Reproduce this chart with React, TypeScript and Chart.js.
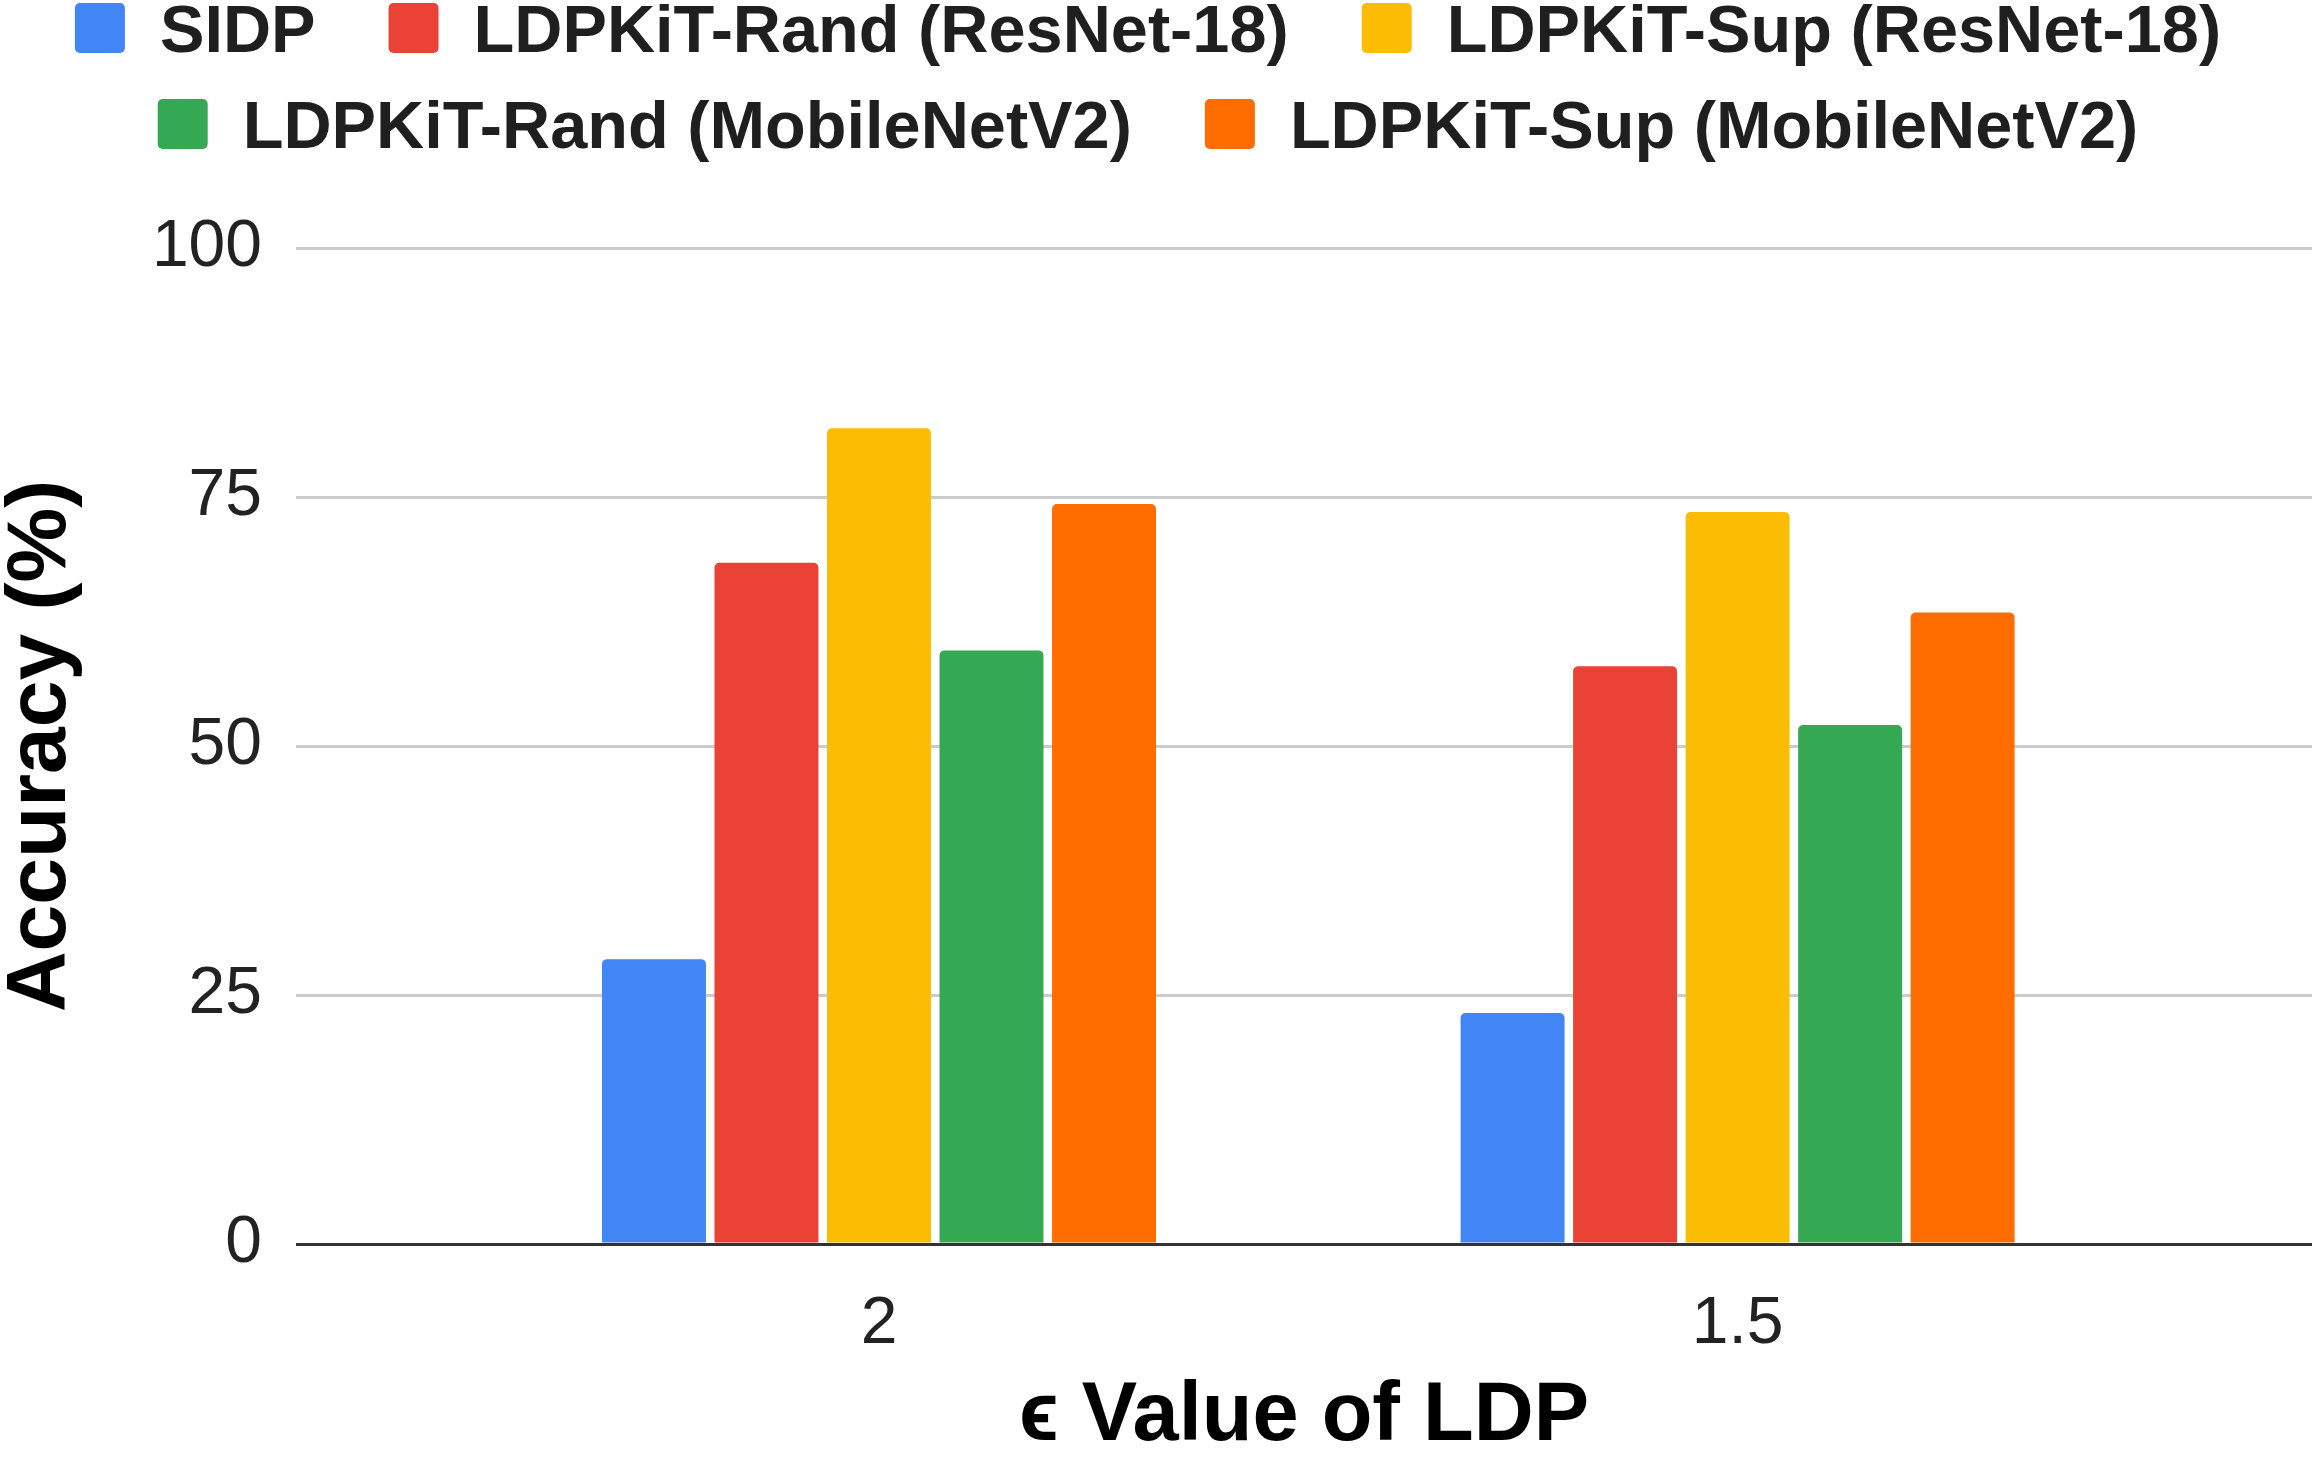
import React, { useEffect, useRef } from "react";
import { Chart, registerables } from "chart.js";

Chart.register(...registerables);

// ε values on the x axis, placed at category positions 0 and 1
const EPSILON_LABELS = ["2", "1.5"];
const EPSILON_POS = [0, 1];

// Accuracy (%) per method, one value per ε
const SIDP = [28.6, 23.2];
const RAND_RESNET18 = [68.4, 58.0];
const SUP_RESNET18 = [81.9, 73.5];
const RAND_MOBILENETV2 = [59.6, 52.1];
const SUP_MOBILENETV2 = [74.3, 63.4];

const SERIES_NAMES = [
  "SIDP",
  "LDPKiT-Rand (ResNet-18)",
  "LDPKiT-Sup (ResNet-18)",
  "LDPKiT-Rand (MobileNetV2)",
  "LDPKiT-Sup (MobileNetV2)",
];
const SERIES_VALUES = [SIDP, RAND_RESNET18, SUP_RESNET18, RAND_MOBILENETV2, SUP_MOBILENETV2];
const SERIES_COLORS = ["#4285F4", "#EA4335", "#FBBC04", "#34A853", "#FF6D01"];

const Y_TICKS = [0, 25, 50, 75, 100];

const W = 2317;
const H = 1459;
const FONT = '"Liberation Sans", Arial, "DejaVu Sans", sans-serif';

// Legend laid out in centred rows above the plot
const LEGEND = {
  font: 66.7,
  box: 50,
  boxGap: 35,
  itemGap: 73,
  firstTop: 3,
  rowPitch: 96,
  centerX: 1148,
};

const legendRows = {
  id: "legendRows",
  afterDraw(chart: any) {
    const { ctx } = chart;
    ctx.save();
    ctx.font = `bold ${LEGEND.font}px ${FONT}`;
    const items = chart.data.datasets.map((ds: any) => {
      const tw = ctx.measureText(ds.label).width;
      return { label: ds.label, color: ds.backgroundColor, tw, w: LEGEND.box + LEGEND.boxGap + tw };
    });
    const rows: any[][] = [[]];
    let rowW = 0;
    for (const it of items) {
      const add = (rows[rows.length - 1].length ? LEGEND.itemGap : 0) + it.w;
      if (rows[rows.length - 1].length && rowW + add > chart.width) {
        rows.push([it]);
        rowW = it.w;
      } else {
        rows[rows.length - 1].push(it);
        rowW += add;
      }
    }
    rows.forEach((row, r) => {
      const total = row.reduce((s, it, i) => s + it.w + (i ? LEGEND.itemGap : 0), 0);
      let x = LEGEND.centerX - total / 2;
      const top = LEGEND.firstTop + r * LEGEND.rowPitch;
      const mid = top + LEGEND.box / 2;
      for (const it of row) {
        ctx.fillStyle = it.color;
        ctx.beginPath();
        (ctx as any).roundRect(x, top, LEGEND.box, LEGEND.box, 5);
        ctx.fill();
        ctx.fillStyle = "#1f1f1f";
        ctx.textAlign = "left";
        ctx.textBaseline = "alphabetic";
        ctx.fillText(it.label, x + LEGEND.box + LEGEND.boxGap, mid + LEGEND.font * 0.716 / 2);
        x += it.w + LEGEND.itemGap;
      }
    });
    ctx.restore();
  },
};

export default function App() {
  const canvasRef = useRef<HTMLCanvasElement | null>(null);

  useEffect(() => {
    const canvas = canvasRef.current;
    if (!canvas) return;
    Chart.defaults.font.family = FONT;

    const chart = new Chart(canvas, {
      type: "bar",
      data: {
        datasets: SERIES_NAMES.map((name, i) => ({
          label: name,
          data: SERIES_VALUES[i].map((v, j) => ({ x: EPSILON_POS[j], y: v })),
          backgroundColor: SERIES_COLORS[i],
          borderRadius: 5,
          borderSkipped: "start",
          categoryPercentage: 0.6552,
          barPercentage: 0.924,
        })),
      },
      options: {
        animation: false,
        responsive: false,
        devicePixelRatio: 1,
        layout: { padding: { top: 248, right: 5, bottom: 0, left: 0 } },
        plugins: {
          legend: { display: false },
          tooltip: { enabled: false },
        },
        scales: {
          x: {
            type: "linear",
            min: -0.679,
            max: 1.669,
            bounds: "data",
            offset: false,
            grid: { display: false, offset: false },
            border: { display: false },
            afterBuildTicks: (scale: any) => {
              scale.ticks = EPSILON_POS.map((v) => ({ value: v }));
            },
            afterFit: (scale: any) => {
              scale.height = 215;
            },
            ticks: {
              autoSkip: false,
              maxRotation: 0,
              padding: 33,
              color: "#222222",
              font: { size: 66 },
              callback: (_v: any, i: number) => EPSILON_LABELS[i],
            },
            title: {
              display: true,
              text: "ϵ Value of LDP",
              color: "#000000",
              font: { size: 83, weight: "bold", lineHeight: 1 },
              padding: 0,
            },
          },
          y: {
            type: "linear",
            min: 0,
            max: 100,
            afterBuildTicks: (scale: any) => {
              scale.ticks = Y_TICKS.map((v) => ({ value: v }));
            },
            afterFit: (scale: any) => {
              scale.width = 296;
            },
            grid: {
              drawTicks: false,
              lineWidth: 3,
              color: (c: any) => (c.tick && c.tick.value === 0 ? "#333333" : "#cccccc"),
            },
            border: { display: false },
            ticks: {
              padding: 34,
              color: "#222222",
              font: { size: 66 },
            },
            title: {
              display: true,
              text: "Accuracy (%)",
              color: "#000000",
              font: { size: 84, weight: "bold", lineHeight: 1 },
              padding: 0,
            },
          },
        },
      },
      plugins: [legendRows],
    } as any);

    return () => chart.destroy();
  }, []);

  return (
    <div style={{ position: "fixed", left: 0, top: 0, width: W, height: H, background: "#ffffff" }}>
      <canvas ref={canvasRef} width={W} height={H} style={{ display: "block", width: W, height: H }} />
    </div>
  );
}
